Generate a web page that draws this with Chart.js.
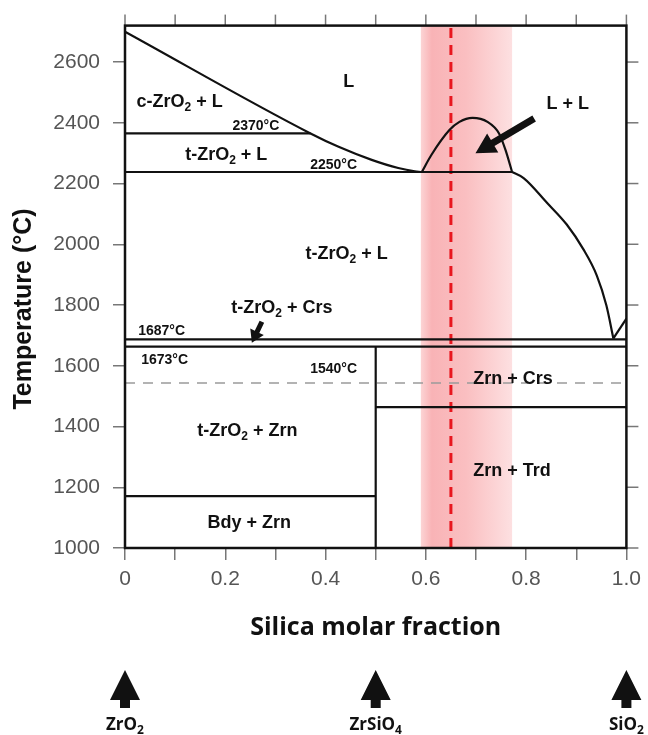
<!DOCTYPE html>
<html>
<head>
<meta charset="utf-8">
<script src="https://cdn.jsdelivr.net/npm/chart.js@4.4.1/dist/chart.umd.min.js"></script>
<style>
html, body { margin: 0; padding: 0; background: #fff; }
canvas { display: block; }
</style>
</head>
<body>
<canvas id="myChart" width="648" height="735"></canvas>
<script>
// x = silica molar fraction, T = temperature in °C
var liquidusZrX = [0, 0.37, 0.426, 0.492, 0.545, 0.578, 0.59];
var liquidusZrT = [2700, 2365, 2321, 2278, 2251, 2240, 2238];
var domeX = [0.592, 0.611, 0.647, 0.667, 0.693, 0.723, 0.746, 0.759, 0.772];
var domeT = [2238, 2294, 2376, 2403, 2416, 2403, 2365, 2310, 2238];
var liquidusSiX = [0.772, 0.795, 0.842, 0.881, 0.914, 0.941, 0.960, 0.974];
var liquidusSiT = [2238, 2218, 2136, 2065, 1984, 1897, 1799, 1690];
var cristobaliteX = [0.974, 1.0];
var cristobaliteT = [1690, 1755];

// horizontal phase boundaries
var isoT = [2365, 2238, 1687, 1663, 1464, 1171];
var isoFrom = [0, 0, 0, 0, 0.5, 0];
var isoTo = [0.37, 0.772, 1, 1, 1, 0.5];

// zircon composition line
var zrnX = [0.5, 0.5];
var zrnT = [1000, 1663];

var dashT = 1543;          // grey dashed line (1540 °C)
var bandX = [0.59, 0.772]; // red highlighted band
var redX = 0.65;           // red dashed line

var xTicks = [0, 0.1, 0.2, 0.3, 0.4, 0.5, 0.6, 0.7, 0.8, 0.9, 1.0];
var xTickLabels = ['0', '', '0.2', '', '0.4', '', '0.6', '', '0.8', '', '1.0'];
var yTicks = [1000, 1200, 1400, 1600, 1800, 2000, 2200, 2400, 2600];

// region names ("_2" = subscript 2)
var regionText = ['L', 'c-ZrO_2 + L', 't-ZrO_2 + L', 'L + L', 't-ZrO_2 + L', 't-ZrO_2 + Crs',
                  'Zrn + Crs', 't-ZrO_2 + Zrn', 'Zrn + Trd', 'Bdy + Zrn'];
var regionX = [0.446, 0.109, 0.202, 0.883, 0.442, 0.313, 0.774, 0.244, 0.772, 0.248];
var regionT = [2535, 2469, 2293, 2463, 1967, 1790, 1555, 1385, 1255, 1082];

var tempText = ['2370°C', '2250°C', '1687°C', '1673°C', '1540°C'];
var tempX = [0.261, 0.416, 0.073, 0.079, 0.416];
var tempT = [2388, 2260, 1715, 1620, 1588];

// pointer arrows [from, to]
var arrowX = [[0.816, 0.699], [0.273, 0.253]];
var arrowT = [[2414, 2300], [1745, 1676]];

var compounds = ['ZrO_2', 'ZrSiO_4', 'SiO_2'];
var compoundX = [0, 0.5, 1];

function pts(xs, ts) {
    return xs.map(function (x, i) { return { x: x, y: ts[i] }; });
}

function lineSet(data, color, width, dash, smooth) {
    return {
        data: data,
        showLine: true,
        borderColor: color,
        borderWidth: width,
        borderDash: dash || [],
        pointRadius: 0,
        fill: false,
        cubicInterpolationMode: smooth ? 'monotone' : 'default',
        tension: smooth ? 0.4 : 0
    };
}

var datasets = [];
datasets.push(lineSet(pts([0, 1], [dashT, dashT]), '#9a9a9a', 1.5, [10, 8]));
datasets.push(lineSet(pts(liquidusZrX, liquidusZrT), '#111', 2.2, null, true));
datasets.push(lineSet(pts(domeX, domeT), '#111', 2.2, null, true));
datasets.push(lineSet(pts(liquidusSiX, liquidusSiT), '#111', 2.2, null, true));
datasets.push(lineSet(pts(cristobaliteX, cristobaliteT), '#111', 2.2));
for (var i = 0; i < isoT.length; i++) {
    datasets.push(lineSet(pts([isoFrom[i], isoTo[i]], [isoT[i], isoT[i]]), '#111', 2.2));
}
datasets.push(lineSet(pts(zrnX, zrnT), '#111', 2.2));
datasets.push(lineSet(pts([redX, redX], [1000, 2720]), '#e8161e', 3, [10, 7]));

function drawRich(ctx, text, x, y, size, family) {
    var parts = text.split(/_(\d)/);
    var big = 'bold ' + size + 'px ' + family;
    var small = 'bold ' + Math.round(size * 0.68) + 'px ' + family;
    var w = 0;
    parts.forEach(function (p, k) { ctx.font = k % 2 ? small : big; w += ctx.measureText(p).width; });
    var cx = x - w / 2;
    ctx.textAlign = 'left';
    ctx.textBaseline = 'middle';
    parts.forEach(function (p, k) {
        ctx.font = k % 2 ? small : big;
        ctx.fillText(p, cx, k % 2 ? y + size * 0.32 : y);
        cx += ctx.measureText(p).width;
    });
}

function fatArrow(ctx, x1, y1, x2, y2, shaft, headLen, headW) {
    var a = Math.atan2(y2 - y1, x2 - x1);
    var len = Math.hypot(x2 - x1, y2 - y1);
    ctx.save();
    ctx.translate(x1, y1);
    ctx.rotate(a);
    ctx.beginPath();
    ctx.moveTo(0, -shaft / 2);
    ctx.lineTo(len - headLen, -shaft / 2);
    ctx.lineTo(len - headLen, -headW / 2);
    ctx.lineTo(len, 0);
    ctx.lineTo(len - headLen, headW / 2);
    ctx.lineTo(len - headLen, shaft / 2);
    ctx.lineTo(0, shaft / 2);
    ctx.closePath();
    ctx.fill();
    ctx.restore();
}

var ARIAL = '"Liberation Sans", Arial, sans-serif';
var SANS = '"Open Sans", Lato, sans-serif';

var diagramPlugin = {
    id: 'diagram',
    beforeDatasetsDraw: function (chart) {
        var ctx = chart.ctx, a = chart.chartArea, xs = chart.scales.x;
        var x0 = xs.getPixelForValue(bandX[0]), x1 = xs.getPixelForValue(bandX[1]);
        var g = ctx.createLinearGradient(x0, 0, x1, 0);
        g.addColorStop(0, '#fcd4d5');
        g.addColorStop(0.12, '#f9b3b6');
        g.addColorStop(0.5, '#fabfc1');
        g.addColorStop(1, '#fde0e1');
        ctx.save();
        ctx.fillStyle = g;
        ctx.fillRect(x0, a.top, x1 - x0, a.bottom - a.top);
        ctx.restore();
    },
    afterDatasetsDraw: function (chart) {
        var ctx = chart.ctx, a = chart.chartArea, xs = chart.scales.x, ys = chart.scales.y;
        ctx.save();
        // top and right tick marks
        ctx.strokeStyle = '#777';
        ctx.lineWidth = 1.5;
        xTicks.forEach(function (v) {
            var px = xs.getPixelForValue(v);
            ctx.beginPath(); ctx.moveTo(px, a.top); ctx.lineTo(px, a.top - 11); ctx.stroke();
        });
        yTicks.forEach(function (v) {
            var py = ys.getPixelForValue(v);
            ctx.beginPath(); ctx.moveTo(a.right, py); ctx.lineTo(a.right + 12, py); ctx.stroke();
        });
        // frame
        ctx.strokeStyle = '#111';
        ctx.lineWidth = 2.5;
        ctx.strokeRect(a.left, a.top, a.right - a.left, a.bottom - a.top);

        ctx.fillStyle = '#111';
        regionText.forEach(function (t, k) {
            drawRich(ctx, t, xs.getPixelForValue(regionX[k]), ys.getPixelForValue(regionT[k]), 18, ARIAL);
        });
        tempText.forEach(function (t, k) {
            drawRich(ctx, t, xs.getPixelForValue(tempX[k]), ys.getPixelForValue(tempT[k]), 14, ARIAL);
        });
        fatArrow(ctx, xs.getPixelForValue(arrowX[0][0]), ys.getPixelForValue(arrowT[0][0]),
                 xs.getPixelForValue(arrowX[0][1]), ys.getPixelForValue(arrowT[0][1]), 7, 20, 22);
        fatArrow(ctx, xs.getPixelForValue(arrowX[1][0]), ys.getPixelForValue(arrowT[1][0]),
                 xs.getPixelForValue(arrowX[1][1]), ys.getPixelForValue(arrowT[1][1]), 5, 12, 15);

        // y axis title
        ctx.save();
        ctx.translate(24, 309);
        ctx.rotate(-Math.PI / 2);
        ctx.font = 'bold 25px ' + ARIAL;
        ctx.textAlign = 'center';
        ctx.textBaseline = 'middle';
        ctx.fillText('Temperature (°C)', 0, 0);
        ctx.restore();

        // compound markers under the axis
        compounds.forEach(function (c, k) {
            var px = xs.getPixelForValue(compoundX[k]);
            fatArrow(ctx, px, a.bottom + 160, px, a.bottom + 122, 10, 30, 30);
            drawRich(ctx, c, px, a.bottom + 177, 17, SANS);
        });
        ctx.restore();
    }
};

var canvas = document.getElementById('myChart');
var ctx = canvas.getContext('2d');

var myChart = new Chart(ctx, {
    type: 'scatter',
    data: { datasets: datasets },
    options: {
        responsive: false,
        animation: false,
        layout: { padding: { top: 21, right: 18, left: 0, bottom: 0 } },
        plugins: {
            legend: { display: false },
            tooltip: { enabled: false }
        },
        scales: {
            x: {
                type: 'linear',
                min: 0,
                max: 1,
                afterBuildTicks: function (scale) {
                    scale.ticks = xTicks.map(function (v) { return { value: v }; });
                },
                afterFit: function (scale) { scale.height = 187; },
                ticks: {
                    autoSkip: false,
                    maxRotation: 0,
                    padding: 7,
                    color: '#555',
                    font: { family: ARIAL, size: 21 },
                    callback: function (v, i) { return xTickLabels[i]; }
                },
                grid: { drawOnChartArea: false, drawTicks: true, tickLength: 12, color: '#777', lineWidth: 1.5 },
                border: { display: false },
                title: {
                    display: true,
                    text: 'Silica molar fraction',
                    color: '#111',
                    font: { family: SANS, size: 25, weight: 'bold' },
                    padding: { top: 0, bottom: 92 }
                }
            },
            y: {
                min: 1000,
                max: 2720,
                afterBuildTicks: function (scale) {
                    scale.ticks = yTicks.map(function (v) { return { value: v }; });
                },
                afterFit: function (scale) { scale.width = 125; },
                ticks: {
                    padding: 13,
                    color: '#555',
                    font: { family: ARIAL, size: 21 },
                    callback: function (v) { return String(v); }
                },
                grid: { drawOnChartArea: false, drawTicks: true, tickLength: 12, color: '#777', lineWidth: 1.5 },
                border: { display: false }
            }
        }
    },
    plugins: [diagramPlugin]
});
</script>
</body>
</html>
